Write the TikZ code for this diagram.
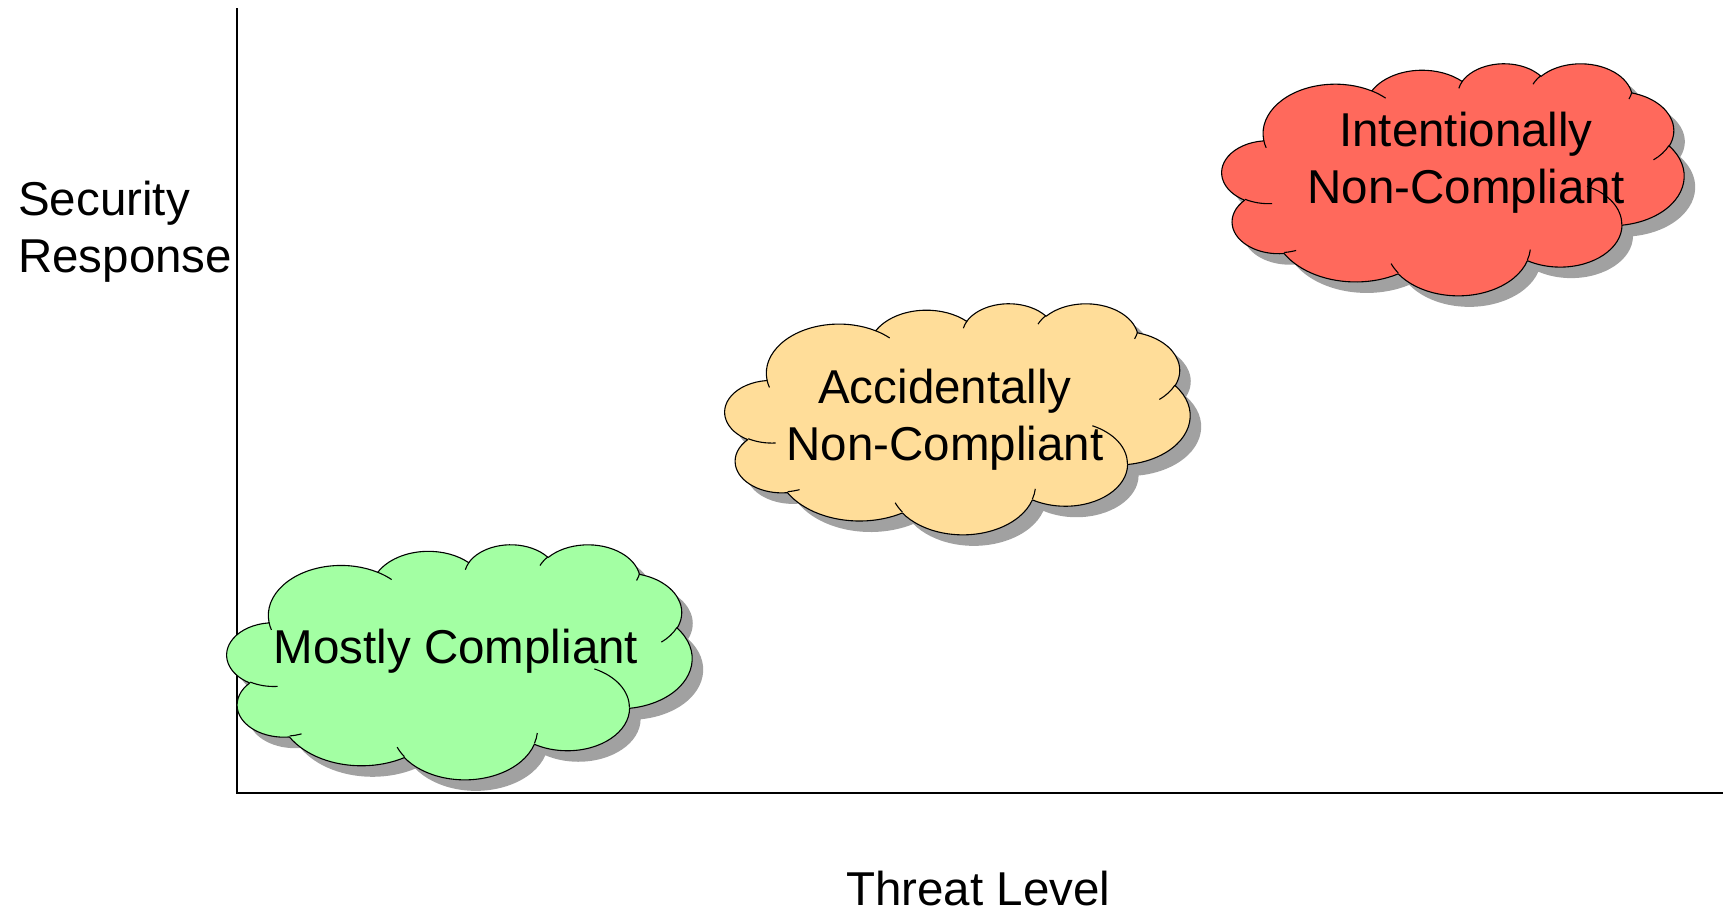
\documentclass[tikz,border=0pt]{standalone}
\usepackage{fontspec}
\setmainfont{Liberation Sans}
\usepackage{tikz}

\definecolor{mostly}{RGB}{163,255,163}
\definecolor{accident}{RGB}{255,221,153}
\definecolor{intent}{RGB}{255,105,92}

% arc given as radii, start angle and sweep (angles as seen, not parametric)
\tikzset{
  oo arc/.code args={#1/#2/#3/#4}{%
    \pgfmathsetmacro\oos{atan2(#1*sin(#3),#2*cos(#3))}%
    \pgfmathsetmacro\ooe{atan2(#1*sin(#3+#4),#2*cos(#3+#4))}%
    \pgfmathsetmacro\ooe{\oos+mod(\ooe-\oos+720,360)}%
    \tikzset{x radius=#1, y radius=#2, start angle=\oos, end angle=\ooe}},
}

% cloud outline in a 43.2 x 43.2 box
\newcommand{\cloudline}{(3.9,14.37)
  arc[oo arc=6.753/9.19/-190.4875/123.7805]
  arc[oo arc=5.333/7.267/-144.1024/89.9452]
  arc[oo arc=4.365/5.945/-145.8079/99.723]
  arc[oo arc=4.857/6.595/-130.9861/117.2417]
  arc[oo arc=5.333/7.273/-78.7089/109.0269]
  arc[oo arc=6.775/9.22/-46.2673/130.269]
  arc[oo arc=5.785/7.867/0.625/114.0333]
  arc[oo arc=6.752/9.215/22.4516/115.1726]
  arc[oo arc=7.72/10.543/66.2426/75.711]
  arc[oo arc=4.36/5.918/-274.9421/146.7356]
  arc[oo arc=4.345/5.945/-246.8285/152.5189] -- cycle}

% the short inner strokes
\newcommand{\cloudcreases}{(4.693,26.177) arc[oo arc=4.345/5.945/86.742/26.4295]
  (6.928,34.899) arc[oo arc=4.36/5.918/73.6105/11.4475]
  (16.478,39.09) arc[oo arc=6.752/9.215/137.6242/14.0811]
  (28.827,34.751) arc[oo arc=6.752/9.215/6.4533/15.9984]
  (34.129,22.954) arc[oo arc=5.785/7.867/-70.2924/70.9174]
  (41.798,15.354) arc[oo arc=5.333/7.273/30.318/27.7515]
  (38.324,5.426) arc[oo arc=4.857/6.595/13.7443/14.8589]
  (29.078,3.952) arc[oo arc=4.857/6.595/-149.1815/18.1954]
  (22.141,4.72) arc[oo arc=4.365/5.945/-163.4943/17.6864]
  (14,5.192) arc[oo arc=6.753/9.19/-66.707/12.3194]
  (4.127,15.789) arc[oo arc=6.753/9.19/157.6544/11.8582]}

% #1,#2 top left, #3 width, #4 height, #5 fill
\newcommand{\drawcloud}[5]{%
  \begin{scope}[shift={(#1+11,#2+11)}, xscale=#3/43.2, yscale=#4/43.2]
    \fill[cloudshadow] \cloudline;
  \end{scope}
  \begin{scope}[shift={(#1,#2)}, xscale=#3/43.2, yscale=#4/43.2]
    \filldraw[fill=#5, cloudedge] \cloudline;
    \draw[cloudedge] \cloudcreases;
  \end{scope}}

\begin{document}
\begin{tikzpicture}[x=1pt, y=-1pt, font=\fontsize{47.5}{57}\selectfont]
\tikzstyle{every node} = [inner sep=0pt]
\tikzstyle{cloudshadow} = [fill=black!37]
\tikzstyle{cloudedge} = [draw=black, line width=1.1pt, line join=round]
\useasboundingbox (0,0) rectangle (1723,916);
% axes
\coordinate (top) at (237,8);
\coordinate (origin) at (237,793);
\coordinate (right) at (1723,793);
\draw[line width=2pt] (top) -- (origin) -- (right);
% clouds
\drawcloud{227}{544}{465}{235}{mostly}
\drawcloud{725}{303}{465}{231}{accident}
\drawcloud{1222}{63}{462}{232}{intent}
% labels
\node[anchor=base] (mostly) at (456,663) {Mostly Compliant};
\node[align=center] (accidental) at (945,419.5) {Accidentally\\Non-Compliant};
\node[align=center] (intentional) at (1466,162.5) {Intentionally\\Non-Compliant};
\node[align=left, anchor=west] (response) at (18,231.5) {Security\\Response};
\node[anchor=base west] (threat) at (846,905) {Threat Level};
\end{tikzpicture}
\end{document}
